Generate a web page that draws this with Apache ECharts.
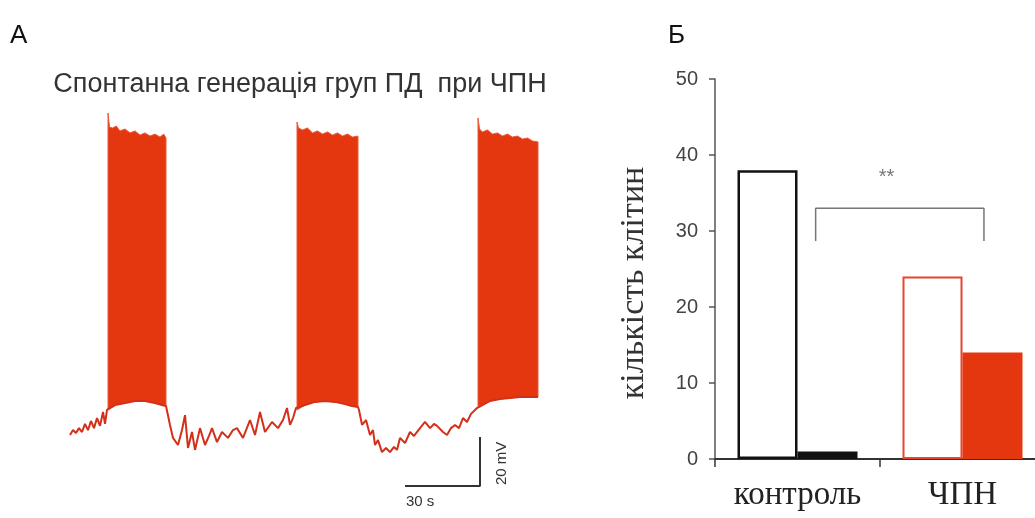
<!DOCTYPE html>
<html>
<head>
<meta charset="utf-8">
<script src="https://cdn.jsdelivr.net/npm/echarts@6/dist/echarts.min.js"></script>
<style>
  html, body { margin: 0; padding: 0; background: #fff; }
  #chart { width: 1035px; height: 518px; }
</style>
</head>
<body>
<div id="chart"></div>
<script>
// Панель А: запис потенціалу (час, с; потенціал, мВ)
const restBefore1 = [[0, -65.7], [1.2, -63.7], [2.4, -64.9], [3.6, -62.9], [4.8, -64.5], [6, -61.2], [7.2, -63.7],
  [8.4, -60], [9.6, -62.9], [10.8, -58.8], [12, -62], [13.2, -56.3], [14, -61.2], [14.8, -55.5]]
const burst1Top = [[15.2, 65.7], [15.8, 60], [17, 59.6], [18.5, 60.4], [20, 58.4], [22, 59.2], [24, 57.6], [26, 58.4],
  [28, 56.7], [30, 57.6], [32, 56.3], [34, 57.1], [36, 55.9], [37.5, 57.1], [38.4, 55.5]]
const burst1Bottom = [[15.2, -55.5], [18, -53.5], [22, -52.7], [26, -51.8], [30, -51.8], [34, -52.7], [36.8, -53.5], [38.4, -53.9]]
const restBefore2 = [[38.8, -54.7], [40, -61.6], [41.2, -66.9], [43.2, -69.8], [44.8, -63.7], [46, -57.6], [47.2, -71],
  [48.8, -64.5], [50, -71.8], [52, -62.9], [54, -69.8], [55.6, -66.1], [56.8, -62.9], [58.8, -68.6], [60.8, -64.5],
  [63.2, -66.9], [65.2, -63.7], [66.8, -62.9], [69.2, -66.9], [72, -59.6], [74, -65.7], [76, -56.3], [78, -64.5],
  [80.8, -60.4], [83.2, -62.9], [85.2, -59.6], [86.8, -54.7], [88, -61.6], [89.2, -58.8], [90.4, -54.7]]
const burst2Top = [[90.8, 62], [91.4, 59.6], [93, 58.8], [95, 59.6], [97, 57.6], [99, 58.4], [101, 57.1], [103, 58],
  [105, 56.7], [107, 57.6], [109, 56.3], [111, 57.1], [113, 55.9], [115.2, 56.3]]
const burst2Bottom = [[90.8, -55.5], [94, -53.5], [98, -52.2], [102, -51.8], [106, -52.2], [110, -53.1], [112.8, -53.9], [115.2, -54.3]]
const restBefore3 = [[115.6, -55.5], [116.8, -61.6], [118.4, -59.6], [120, -65.7], [121.2, -63.7], [122, -69.8],
  [123.2, -67.8], [124.8, -72.7], [126.4, -71], [128, -72.7], [129.6, -70.6], [130.8, -71.8], [132, -66.9], [134, -69],
  [136, -64.5], [137.6, -66.1], [140, -62.9], [142, -60.4], [144, -62.9], [145.6, -61.2], [146.8, -62], [149.2, -64.5],
  [150.8, -65.7], [152.4, -62.9], [154, -61.6], [155.6, -62.9], [157.2, -58.8], [158.8, -60.4], [160.4, -57.1],
  [161.2, -56.3], [162.8, -54.7]]
const burst3Top = [[163.2, 63.7], [163.8, 59.2], [165, 58], [167, 58.8], [169, 57.1], [171, 57.6], [173, 56.3], [175, 57.1],
  [177, 55.9], [179, 56.3], [181, 55.1], [183, 55.5], [185, 54.3], [187.2, 53.9]]
const burst3Bottom = [[163.2, -54.3], [168, -51.8], [172, -51], [176, -50.6], [180, -50.2], [184, -50.2], [187.2, -50.2]]

// масштаб: 30 с × 20 мВ
const scaleBar = [[134, -86.5], [164, -86.5], [164, -66.5]]

// Панель Б: кількість клітин
const groups = ['контроль', 'ЧПН']
const allCells = [38, 24]
const burstCells = [1, 14]
const bracket = [[0.61, 28.7], [0.61, 33], [1.63, 33], [1.63, 28.7]]
const starsPos = [[1.04, 37]]

const RED = '#e5370f'
const SANS = 'Liberation Sans, Arial, sans-serif'
const SERIF = 'Liberation Serif, Times New Roman, serif'

const bursts = [
  { top: burst1Top, bottom: burst1Bottom },
  { top: burst2Top, bottom: burst2Bottom },
  { top: burst3Top, bottom: burst3Bottom }
]

const trace = [].concat(restBefore1, burst1Bottom, restBefore2, burst2Bottom, restBefore3, burst3Bottom)

const chart = echarts.init(document.getElementById('chart'))

chart.setOption({
  animation: false,
  title: [
    { text: 'А', left: 5, top: 18, textStyle: { fontFamily: SANS, fontSize: 26, fontWeight: 'normal', color: '#111' } },
    { text: 'Б', left: 663, top: 18, textStyle: { fontFamily: SANS, fontSize: 26, fontWeight: 'normal', color: '#111' } },
    {
      text: 'Спонтанна генерація груп ПД  при ЧПН',
      left: 295, top: 66, textAlign: 'center',
      textStyle: { fontFamily: SANS, fontSize: 27, fontWeight: 'normal', color: '#333' }
    }
  ],
  grid: [
    { left: 70, top: 102.5, width: 475, height: 392, outerBoundsMode: 'none' },
    { left: 715, top: 79, width: 330, height: 380, outerBoundsMode: 'none' }
  ],
  xAxis: [
    { type: 'value', gridIndex: 0, min: 0, max: 190, show: false },
    {
      type: 'category', gridIndex: 1, data: groups,
      axisLine: { lineStyle: { color: '#333', width: 2 } },
      axisTick: { show: true, interval: 0, length: 8, lineStyle: { color: '#333', width: 1.5 } },
      axisLabel: { interval: 0, hideOverlap: false, fontFamily: SERIF, fontSize: 33, color: '#222', margin: 20 }
    },
    { type: 'value', gridIndex: 1, min: 0, max: 2, show: false }
  ],
  yAxis: [
    { type: 'value', gridIndex: 0, min: -90, max: 70, show: false },
    {
      type: 'value', gridIndex: 1, min: 0, max: 50, interval: 10,
      name: 'кількість клітин', nameLocation: 'middle', nameGap: 64,
      nameTextStyle: { fontFamily: SERIF, fontSize: 34, color: '#333', padding: [0, 28, 0, 0] },
      axisLine: { show: true, lineStyle: { color: '#555', width: 1.5 } },
      axisTick: { show: true, length: 6, lineStyle: { color: '#555', width: 1.5 } },
      axisLabel: { fontFamily: SANS, fontSize: 20, color: '#444', margin: 17 },
      splitLine: { show: false }
    }
  ],
  series: [
    {
      type: 'custom',
      xAxisIndex: 0, yAxisIndex: 0,
      clip: false,
      data: bursts.map(b => b.bottom[0]),
      renderItem: (params, api) => {
        const b = bursts[params.dataIndex]
        const pts = b.top.concat(b.bottom.slice().reverse()).map(p => api.coord(p))
        return {
          type: 'polygon',
          shape: { points: pts },
          style: { fill: RED, stroke: '#ea5a3a', lineWidth: 1 }
        }
      }
    },
    {
      type: 'line',
      xAxisIndex: 0, yAxisIndex: 0,
      data: trace,
      showSymbol: false,
      lineStyle: { color: '#d3301a', width: 2 },
      z: 3
    },
    {
      type: 'line',
      xAxisIndex: 0, yAxisIndex: 0,
      data: scaleBar,
      showSymbol: false,
      clip: false,
      lineStyle: { color: '#333', width: 2 }
    },
    {
      type: 'bar',
      xAxisIndex: 1, yAxisIndex: 1,
      barWidth: 60, barGap: '0%',
      data: allCells.map((v, i) => ({
        value: v,
        itemStyle: { color: '#fff', borderColor: i === 0 ? '#111' : '#e8442e', borderWidth: i === 0 ? 2.5 : 2 }
      }))
    },
    {
      type: 'bar',
      xAxisIndex: 1, yAxisIndex: 1,
      barWidth: 60, barGap: '0%',
      data: burstCells.map((v, i) => ({
        value: v,
        itemStyle: { color: i === 0 ? '#111' : RED }
      }))
    },
    {
      type: 'line',
      xAxisIndex: 2, yAxisIndex: 1,
      data: bracket,
      showSymbol: false,
      lineStyle: { color: '#777', width: 1.5 }
    },
    {
      type: 'scatter',
      xAxisIndex: 2, yAxisIndex: 1,
      data: starsPos,
      symbolSize: 0,
      label: { show: true, formatter: '**', position: 'inside', fontFamily: SANS, fontSize: 20, color: '#555' }
    }
  ],
  graphic: [
    { type: 'text', left: 406, top: 494, style: { text: '30 s', font: '15px ' + SANS, fill: '#333' } },
    { type: 'text', x: 494, y: 485, rotation: Math.PI / 2, style: { text: '20 mV', font: '15px ' + SANS, fill: '#333' } }
  ]
})
</script>
</body>
</html>
